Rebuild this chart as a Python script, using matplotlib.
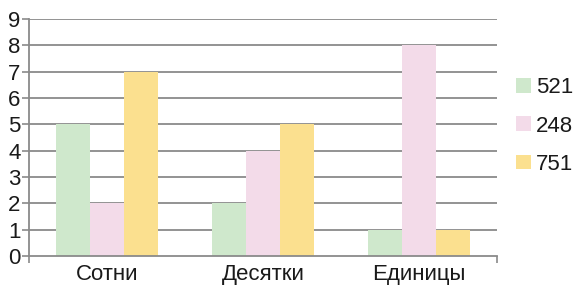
import matplotlib
matplotlib.use("Agg")
import matplotlib.pyplot as plt
import numpy as np

categories = ["Сотни", "Десятки", "Единицы"]
series_names = ["521", "248", "751"]
values_521 = [5, 2, 1]
values_248 = [2, 4, 8]
values_751 = [7, 5, 1]
colors = ["#cfe8cc", "#f3dbe9", "#fbe08f"]
yticks = list(range(0, 10))

plt.rcParams['font.family'] = ['Liberation Sans', 'DejaVu Sans']

fig = plt.figure(figsize=(5.84, 2.97), dpi=100)
ax = fig.add_axes([29/584, 1-256/297, (497-29)/584, (256-19)/297])

x = np.arange(len(categories))
w = 0.218
series = [values_521, values_248, values_751]
handles = []
for i, (vals, name, c) in enumerate(zip(series, series_names, colors)):
    h = ax.bar(x + (i-1)*w, vals, width=w, color=c, label=name, zorder=2, linewidth=0)
    handles.append(h)

ax.set_xlim(-0.5, 2.5)
ax.set_ylim(0, 9)
ax.set_yticks(yticks)
for yv in yticks[1:]:
    ax.axhline(yv, color="#8a8a8a", lw=1.3, zorder=1)

ax.set_xticks(x)
ax.set_xticklabels(categories, fontsize=16, color="#1a1a1a")
ax.tick_params(axis='x', length=0, pad=6)
ax.set_xticks([-0.5, 1.0, 2.5], minor=True)
ax.tick_params(axis='x', which='minor', length=5, color="#8a8a8a", width=1.2)
ax.tick_params(axis='y', length=5, color="#8a8a8a", width=1.2, labelsize=16,
               labelcolor="#1a1a1a", pad=1)

for s in ["top", "right"]:
    ax.spines[s].set_visible(False)
for s in ["left", "bottom"]:
    ax.spines[s].set_color("#8a8a8a")
    ax.spines[s].set_linewidth(1.3)

leg = fig.legend(handles=handles, labels=series_names, loc="center left",
           bbox_to_anchor=(505/584, 1-126/297), frameon=False, fontsize=16,
           handlelength=0.65, handleheight=0.65, handletextpad=0.25,
           labelspacing=0.78, borderpad=0)
for t in leg.get_texts():
    t.set_color("#1a1a1a")

fig.savefig("out.png", dpi=100)
